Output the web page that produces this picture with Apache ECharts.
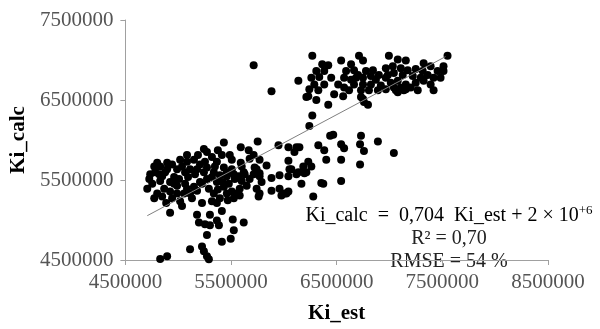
<!DOCTYPE html>
<html>
<head>
<meta charset="utf-8">
<script src="https://cdn.jsdelivr.net/npm/echarts@6/dist/echarts.min.js"></script>
<style>html,body{margin:0;padding:0;background:#fff}#c{width:600px;height:329px}</style>
</head>
<body>
<div id="c"></div>
<script>
// Ki_est values (x)
const kiEst = [
6269000,6711000,6994000,7078000,7154000,7549000,6542000,6363000,6420000,6636000,6749000,7323000,7389000,7511000,6137000,6307000,6382000,6335000,6260000,6589000,
6664000,6702000,6777000,6843000,6965000,7031000,7107000,7172000,7248000,7314000,7455000,7511000,6570000,6636000,6749000,6824000,6899000,6984000,7041000,7125000,
7220000,7361000,7417000,6288000,6382000,6514000,6570000,6664000,6749000,6824000,6918000,7012000,7078000,7154000,7248000,7323000,7389000,6241000,6326000,6476000,
6561000,6617000,6730000,6805000,6890000,6965000,7060000,7135000,7267000,7417000,6213000,6307000,6420000,6730000,6758000,6796000,7041000,7107000,7154000,7078000,
6269000,6241000,6467000,6730000,6231000,6749000,5714000,5883000,6448000,6871000,6683000,6965000,7201000,7295000,7483000,
6438000,6890000,6542000,6721000,6326000,6570000,6758000,7041000,6382000,6043000,6119000,6147000,6100000,6401000,6542000,6721000,6043000,6231000,6184000,6260000,
6053000,6119000,6194000,6043000,6166000,6373000,6542000,6024000,6278000,5752000,5949000,5592000,5667000,5714000,5676000,5770000,5592000,5836000,5742000,5770000,
5714000,6071000,6137000,5959000,5883000,6213000,5526000,5573000,5460000,6354000,5789000,5648000,5582000,5742000,5883000,5959000,6043000,5770000,5507000,5526000,
5582000,5761000,5977000,5516000,5620000,5526000,5497000,5723000,5770000,5620000,6005000,
4886000,4923000,5036000,5178000,5300000,5413000,5196000,5253000,5300000,5366000,5385000,5272000,5413000,5225000,5112000,5243000,5272000,5290000,4895000,4829000,4707000,
5432000,5243000,5272000,5018000,5083000,5149000,5253000,5366000,4801000,4829000,4773000,4735000,4726000,4820000,4895000,4989000,4829000,4961000,5065000,5178000,
5272000,5337000,5432000,5460000,4867000,4923000,4989000,5065000,5149000,5206000,5272000,5366000,5432000,4801000,5112000,5337000,5460000,4754000,4876000,4923000,
4942000,5008000,5036000,5055000,5093000,5112000,5130000,5159000,5178000,5206000,5225000,5243000,5290000,5319000,5347000,5375000,5394000,5422000,5479000,5507000,
5535000,5554000,5601000,5629000,5469000,5394000,5319000,5225000,5018000,4942000,4848000,4773000,4782000,4895000,5187000,5319000,5083000,5507000,5601000,
5375000,5488000,5083000,4961000,4848000,4989000,5366000,5676000,5413000
];
// Ki_calc values (y)
const kiCalc = [
7054000,7054000,7054000,7006000,6994000,7054000,6994000,6946000,6934000,6946000,6994000,6958000,6922000,6922000,6741000,6861000,6861000,6789000,6777000,6861000,
6873000,6813000,6861000,6873000,6898000,6922000,6898000,6873000,6886000,6861000,6861000,6861000,6777000,6753000,6777000,6801000,6813000,6813000,6837000,6813000,
6801000,6813000,6777000,6693000,6693000,6693000,6657000,6693000,6693000,6693000,6681000,6717000,6741000,6693000,6717000,6741000,6693000,6633000,6621000,6572000,
6548000,6621000,6621000,6621000,6621000,6633000,6621000,6621000,6621000,6621000,6536000,6500000,6440000,6536000,6476000,6440000,6657000,6657000,6633000,6596000,
6307000,6175000,6066000,6054000,6548000,6512000,6934000,6608000,6777000,6753000,6777000,6777000,6657000,6777000,6777000,
6054000,5982000,5946000,5946000,5934000,5898000,5861000,5837000,5873000,5910000,5910000,5910000,5849000,5753000,5753000,5693000,5741000,5729000,5669000,5669000,
5633000,5572000,5584000,5548000,5452000,5452000,5488000,5331000,5295000,5982000,5934000,5910000,5873000,5813000,5765000,5753000,5717000,5681000,5633000,5584000,
5572000,5633000,5596000,5560000,5524000,5596000,5572000,5548000,5596000,5464000,5476000,5428000,5392000,5392000,5367000,5392000,5355000,5331000,5355000,5271000,
5307000,5295000,5307000,5006000,4970000,4873000,4765000,5657000,5548000,5596000,5331000,
5211000,5090000,5175000,5066000,5066000,5114000,4970000,4946000,4934000,4994000,4934000,4813000,4729000,4669000,4633000,4608000,4548000,4510000,4548000,4512000,5392000,
5970000,5886000,5849000,5753000,5729000,5753000,5729000,5729000,5717000,5669000,5669000,5572000,5512000,5572000,5633000,5633000,5488000,5536000,5596000,5633000,
5657000,5596000,5657000,5548000,5392000,5355000,5428000,5452000,5416000,5476000,5512000,5476000,5416000,5331000,5331000,5331000,5331000,5452000,5596000,5476000,
5693000,5512000,5669000,5331000,5536000,5633000,5271000,5572000,5367000,5693000,5452000,5596000,5392000,5536000,5669000,5380000,5560000,5476000,5452000,5633000,
5512000,5331000,5488000,5572000,5247000,5271000,5235000,5211000,5235000,5271000,5295000,5271000,5596000,5717000,5813000,5789000,5813000,5753000,5669000,
5873000,5813000,5392000,5452000,5548000,5331000,5211000,5512000,5813000
];
// Trend line end points
const trendX = [4707000, 7530000];
const trendY = [5054000, 7042000];
// Axis ranges / ticks
const xTicks = [4500000, 5500000, 6500000, 7500000, 8500000];
const yTicks = [4500000, 5500000, 6500000, 7500000];
const eqLines = ['Ki_calc  =  0,704  Ki_est + 2 × 10', '+6', 'R² = 0,70', 'RMSE = 54 %'];

const points = kiEst.map((x, i) => [x, kiCalc[i]]);
const trend = trendX.map((x, i) => [x, trendY[i]]);
const FONT = 'Liberation Serif';
const plain = v => String(Math.round(v));

const chart = echarts.init(document.getElementById('c'), null, {renderer: 'canvas'});
chart.setOption({
  animation: false,
  backgroundColor: '#fff',
  grid: {left: 123, right: 52, top: 20, bottom: 60, containLabel: false},
  xAxis: {
    type: 'value', min: xTicks[0], max: xTicks[xTicks.length - 1], interval: 1000000,
    name: 'Ki_est', nameLocation: 'middle', nameGap: 43,
    nameTextStyle: {fontFamily: FONT, fontWeight: 'bold', fontSize: 21, color: '#000'},
    axisLine: {lineStyle: {color: '#a0a0a0', width: 1}},
    axisTick: {length: 5, lineStyle: {color: '#a0a0a0'}},
    axisLabel: {fontFamily: FONT, fontSize: 21, color: '#555', margin: 12, formatter: plain},
    splitLine: {show: false}
  },
  yAxis: {
    type: 'value', min: yTicks[0], max: yTicks[yTicks.length - 1], interval: 1000000,
    name: 'Ki_calc', nameLocation: 'middle', nameGap: 96, nameRotate: 90,
    nameTextStyle: {fontFamily: FONT, fontWeight: 'bold', fontSize: 21, color: '#000'},
    axisLine: {show: true, lineStyle: {color: '#a0a0a0', width: 1}},
    axisTick: {show: true, length: 5, lineStyle: {color: '#a0a0a0'}},
    axisLabel: {fontFamily: FONT, fontSize: 21, color: '#555', margin: 12, formatter: plain},
    splitLine: {show: false}
  },
  series: [
    {type: 'scatter', data: points, symbol: 'circle', symbolSize: 8,
     itemStyle: {color: '#000', opacity: 1}, z: 2},
    {type: 'line', data: trend, showSymbol: false, symbol: 'none',
     lineStyle: {color: '#808080', width: 1}, z: 3, silent: true}
  ],
  graphic: [
    {type: 'text', x: 449, y: 215, style: {
      text: '{a|' + eqLines[0] + '}{s|' + eqLines[1] + '}',
      rich: {a: {fontFamily: FONT, fontSize: 20, color: '#222', lineHeight: 22, verticalAlign: 'bottom'},
             s: {fontFamily: FONT, fontSize: 13, color: '#222', lineHeight: 22, verticalAlign: 'top'}},
      align: 'center', verticalAlign: 'middle'}},
    {type: 'text', x: 449, y: 239, style: {text: eqLines[2], fontFamily: FONT, fontSize: 20, fill: '#222', align: 'center', verticalAlign: 'middle'}},
    {type: 'text', x: 449, y: 262, style: {text: eqLines[3], fontFamily: FONT, fontSize: 20, fill: '#222', align: 'center', verticalAlign: 'middle'}}
  ]
});
</script>
</body>
</html>
